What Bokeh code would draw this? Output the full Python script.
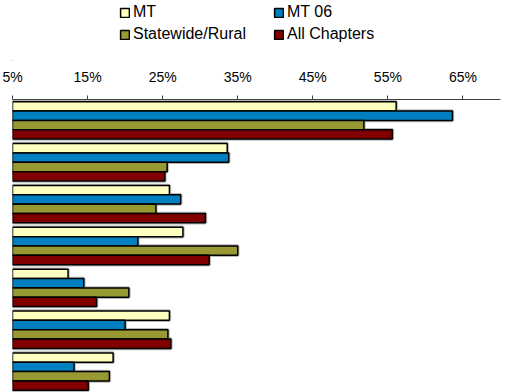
from bokeh.plotting import figure
from bokeh.layouts import column
from bokeh.models import (FactorRange, Range1d, FixedTicker, PrintfTickFormatter,
                          Legend, LegendItem, ColumnDataSource)
from bokeh.transform import dodge
from bokeh.embed import file_html
from bokeh.resources import INLINE

categories = ["Item 1", "Item 2", "Item 3", "Item 4", "Item 5", "Item 6", "Item 7"]
series = ["MT", "MT 06", "Statewide/Rural", "All Chapters"]
mt = [56.1, 33.6, 25.9, 27.7, 12.4, 25.9, 18.4]
mt06 = [63.6, 33.8, 27.4, 21.7, 14.5, 20.0, 13.2]
statewide = [51.8, 25.6, 24.1, 35.0, 20.5, 25.7, 17.9]
all_chapters = [55.6, 25.3, 30.7, 31.2, 16.2, 26.1, 15.1]
ticks = [5, 15, 25, 35, 45, 55, 65]
colors = ["#FFFFC0", "#0080C0", "#999933", "#800000"]

src = ColumnDataSource(dict(cat=categories, mt=mt, mt06=mt06, sw=statewide, ac=all_chapters))

# ---- legend strip ----
lg = figure(width=506, height=61, output_backend="svg", toolbar_location=None,
            x_range=Range1d(0, 1), y_range=Range1d(0, 1),
            min_border=0, outline_line_color=None)
lg.axis.visible = False
lg.grid.visible = False
dummy = []
for c in colors:
    # placed outside the visible range: only the legend swatch shows
    dummy.append(lg.hbar(y=[-10], left=[-10], right=[-9], height=1,
                         fill_color=c, line_color="black", line_width=1.5))

common = dict(orientation="vertical", glyph_width=11, glyph_height=11, label_standoff=3,
              label_text_font="Liberation Sans", label_text_font_size="16px",
              label_text_color="black",
              label_height=18, spacing=4, padding=0, margin=0,
              border_line_color=None, background_fill_alpha=0)
leg1 = Legend(items=[LegendItem(label=series[0], renderers=[dummy[0]]),
                     LegendItem(label=series[2], renderers=[dummy[2]])],
              location=(107, 18), **common)
leg2 = Legend(items=[LegendItem(label=series[1], renderers=[dummy[1]]),
                     LegendItem(label=series[3], renderers=[dummy[3]])],
              location=(261, 18), **common)
lg.add_layout(leg1, "center")
lg.add_layout(leg2, "center")

# ---- main chart ----
p = figure(width=506, height=331, output_backend="svg", toolbar_location=None,
           y_range=FactorRange(factors=list(reversed(categories)), range_padding=0),
           x_range=Range1d(5, 70), x_axis_location="above",
           min_border_left=12, min_border_right=6, min_border_top=38, min_border_bottom=0,
           outline_line_color=None)

fields = ["mt", "mt06", "sw", "ac"]
offsets = [0.335, 0.112, -0.112, -0.335]
for f, off in zip(fields, offsets):
    yd = dodge("cat", off, range=p.y_range)
    p.hbar(y=yd, left=5, right=f, height=0.223, source=src,
           fill_color=None, line_color="#b8b8b8", line_width=3.5)
for f, off, c in zip(fields, offsets, colors):
    yd = dodge("cat", off, range=p.y_range)
    p.hbar(y=yd, left=5, right=f, height=0.223, source=src,
           fill_color=c, line_color="black", line_width=1.5)

p.xaxis.ticker = FixedTicker(ticks=ticks)
p.xaxis.formatter = PrintfTickFormatter(format="%d%%")
p.xaxis.minor_tick_line_color = None
p.xaxis.major_tick_in = 0
p.xaxis.major_tick_out = 4
p.xaxis.axis_line_color = "#404040"
p.xaxis.major_tick_line_color = "#404040"
p.xaxis.major_label_text_font = "Liberation Sans"
p.xaxis.major_label_text_font_size = "14px"
p.xaxis.major_label_text_color = "black"
p.xaxis.major_label_standoff = 11
p.yaxis.visible = False
p.xgrid.visible = False
p.ygrid.visible = False

layout = column(lg, p, spacing=0)
open("out.html", "w").write(file_html(layout, INLINE))
